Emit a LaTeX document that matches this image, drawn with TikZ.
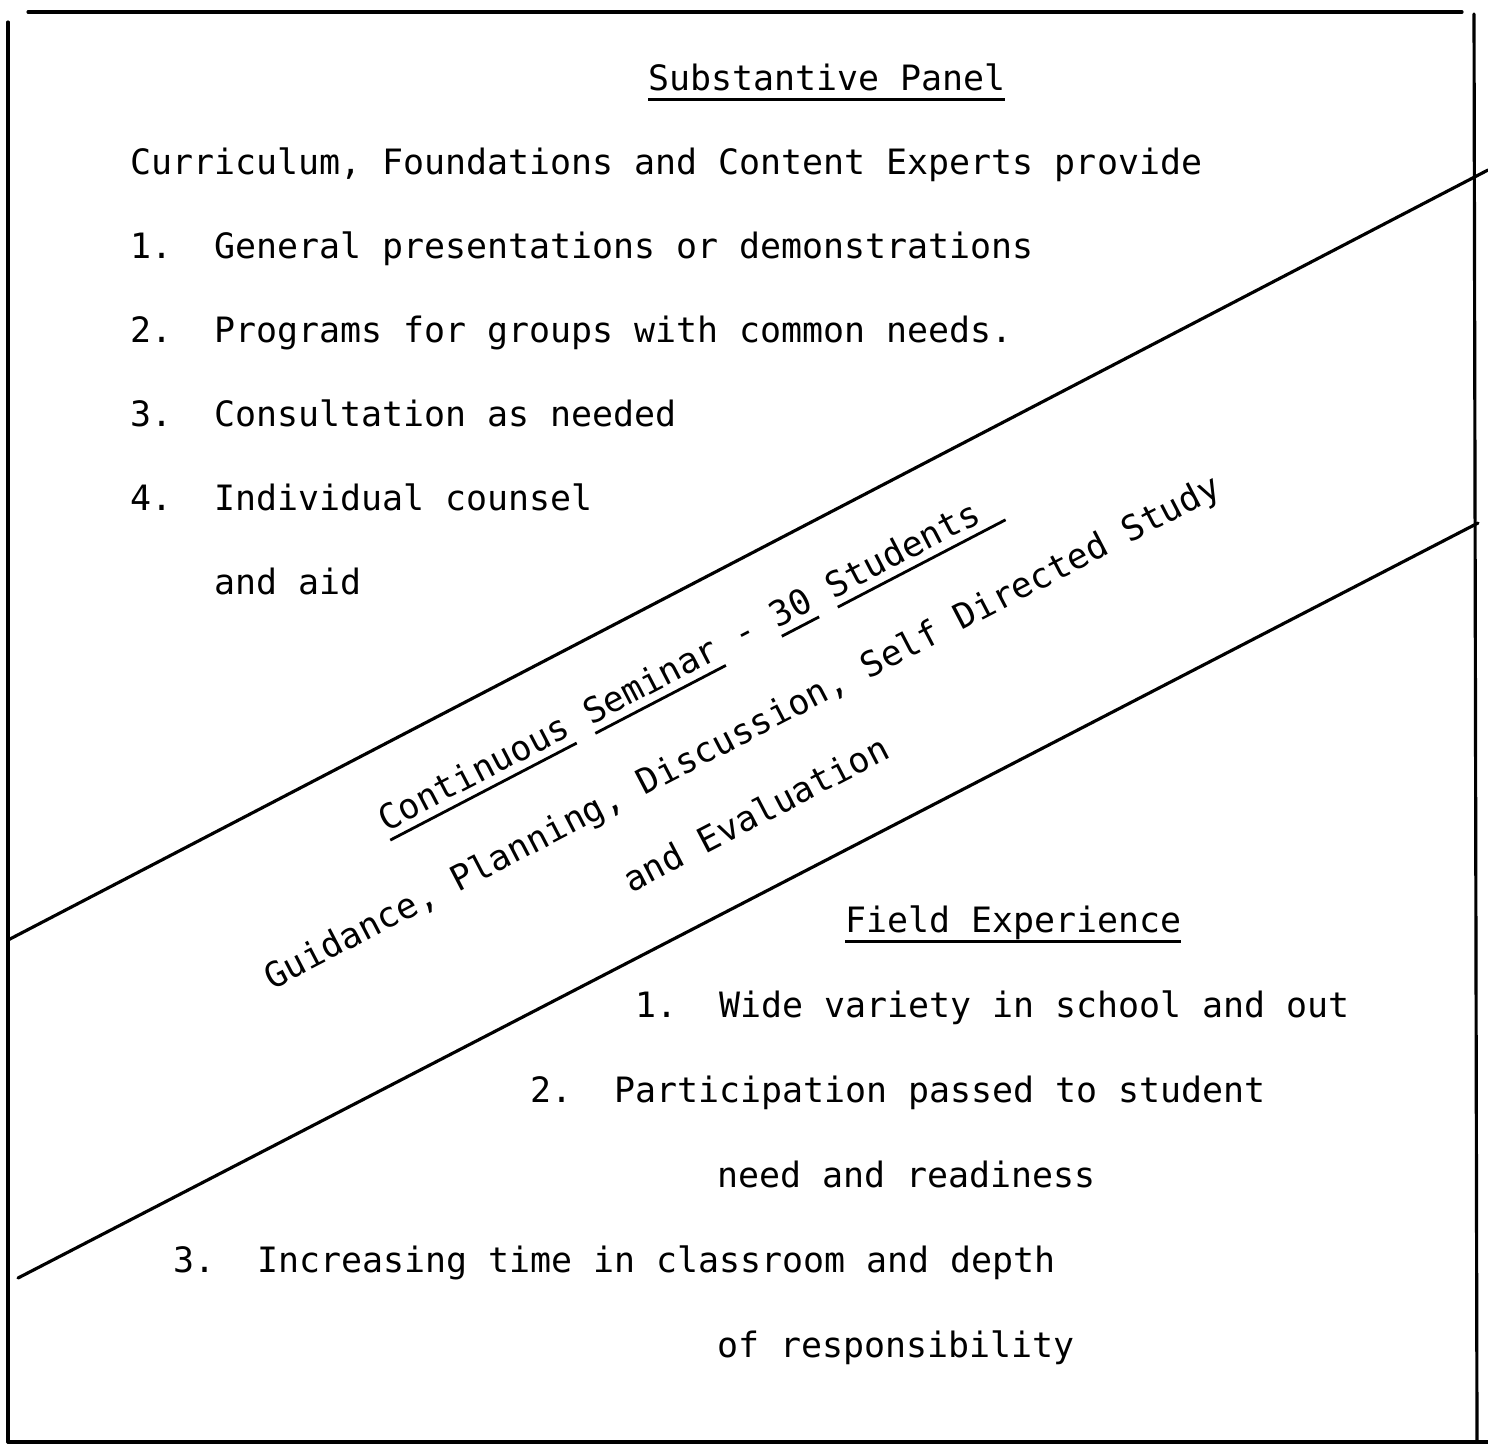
\documentclass[tikz,border=0pt]{standalone}
\usepackage{fontspec}
\newfontfamily\twfont{DejaVu Sans Mono}
\newcommand{\tw}{\twfont\fontsize{9.93}{12}\selectfont\frenchspacing}
\newcommand{\tul}[1]{\setbox0=\hbox{#1}\rlap{\rule[-3.0pt]{\wd0}{0.8pt}}\box0\relax}
\tikzset{
  txt/.style={anchor=base west, inner sep=0pt, outer sep=0pt, font=\tw},
  rtxt/.style={txt, rotate=27.5},
  frame/.style={line width=0.9pt, line cap=round},
  diag/.style={line width=0.9pt, line cap=round}
}
\begin{document}
\begin{tikzpicture}[x=0.01cm, y=-0.01cm]
\useasboundingbox (0,0) rectangle (1488,1447);
\fill[white] (0,0) rectangle (1488,1447);
% frame
\coordinate (tl) at (28,12);
\coordinate (tr) at (1462,12);
\coordinate (lt) at (8,22);
\coordinate (lb) at (8,1442);
\coordinate (rt) at (1474,14);
\coordinate (rb) at (1477,1442);
\coordinate (bl) at (8,1442);
\coordinate (br) at (1488,1442);
\draw[frame] (tl) -- (tr);
\draw[frame] (lt) -- (lb);
\draw[frame] (rt) -- (rb);
\draw[frame] (bl) -- (br);
% diagonals
\coordinate (u1) at (8,940);
\coordinate (u2) at (1488,170);
\coordinate (d1) at (18,1278);
\coordinate (d2) at (1478,523);
\draw[diag] (u1) -- (u2);
\draw[diag] (d1) -- (d2);
% top panel
\node[txt] (sp) at (648,90) {\tul{Substantive Panel}};
\node[txt] (intro) at (130,174) {Curriculum, Foundations and Content Experts provide};
\node[txt] (t1) at (130,258) {1.~~General presentations or demonstrations};
\node[txt] (t2) at (130,342) {2.~~Programs for groups with common needs.};
\node[txt] (t3) at (130,426) {3.~~Consultation as needed};
\node[txt] (t4) at (130,510) {4.~~Individual counsel};
\node[txt] (t4b) at (214,594) {and aid};
% seminar band
\node[rtxt] (cs) at (386,832) {\tul{Continuous}~\tul{Seminar}~-~\tul{30}~\tul{Students~}};
\node[rtxt] (gd) at (272,990) {Guidance, Planning, Discussion, Self Directed Study};
\node[rtxt] (ev) at (631,893) {and Evaluation};
% field experience
\node[txt] (fe) at (845,932) {\tul{Field Experience}};
\node[txt] (f1) at (635,1017) {1.~~Wide variety in school and out};
\node[txt] (f2) at (530,1102) {2.~~Participation passed to student};
\node[txt] (f2b) at (717,1187) {need and readiness};
\node[txt] (f3) at (173,1272) {3.~~Increasing time in classroom and depth};
\node[txt] (f3b) at (717,1357) {of responsibility};
\end{tikzpicture}
\end{document}
